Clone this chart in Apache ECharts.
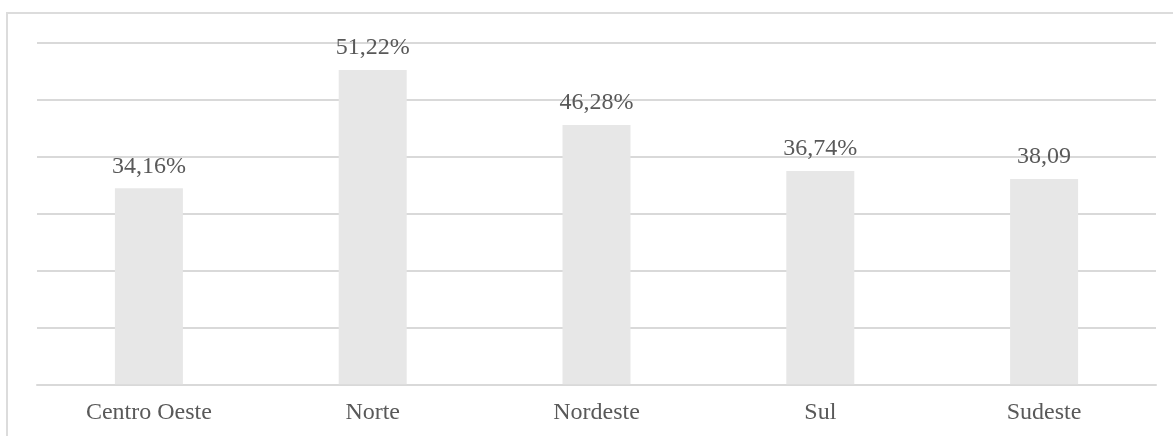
<!DOCTYPE html>
<html>
<head>
<meta charset="utf-8">
<script src="https://cdn.jsdelivr.net/npm/echarts@6/dist/echarts.min.js"></script>
<style>html,body{margin:0;padding:0;background:#fff;}#c{width:1173px;height:436px;}</style>
</head>
<body>
<div id="c"></div>
<script>
const categories = ['Centro Oeste', 'Norte', 'Nordeste', 'Sul', 'Sudeste'];
const barValues = [34.43, 55.21, 45.55, 37.47, 36.06];
const barLabels = ['34,16%', '51,22%', '46,28%', '36,74%', '38,09'];
const yMin = 0, yMax = 60, yStep = 10;

const chart = echarts.init(document.getElementById('c'), null, {renderer: 'canvas'});
const font = '"Liberation Serif", "DejaVu Serif", serif';
chart.setOption({
  animation: false,
  backgroundColor: '#ffffff',
  graphic: [{
    type: 'rect', silent: true, z: -1,
    shape: {x: 7, y: 13, width: 1200, height: 460},
    style: {fill: 'none', stroke: '#dcdcdc', lineWidth: 2}
  }],
  grid: {left: 37, right: 17, top: 42.7, bottom: 51.7},
  xAxis: {
    type: 'category',
    data: categories,
    axisTick: {show: false},
    axisLine: {lineStyle: {color: '#d9d9d9', width: 2}},
    axisLabel: {color: '#595959', fontFamily: font, fontSize: 24, margin: 16}
  },
  yAxis: {
    type: 'value', min: yMin, max: yMax, interval: yStep,
    axisLabel: {show: false}, axisLine: {show: false}, axisTick: {show: false},
    splitLine: {lineStyle: {color: '#d9d9d9', width: 2}}
  },
  series: [{
    type: 'bar',
    data: barValues,
    barWidth: 68,
    itemStyle: {color: '#e7e7e7'},
    label: {
      show: true, position: 'top', distance: 10,
      color: '#595959', fontFamily: font, fontSize: 24,
      formatter: p => barLabels[p.dataIndex]
    }
  }]
});
</script>
</body>
</html>
